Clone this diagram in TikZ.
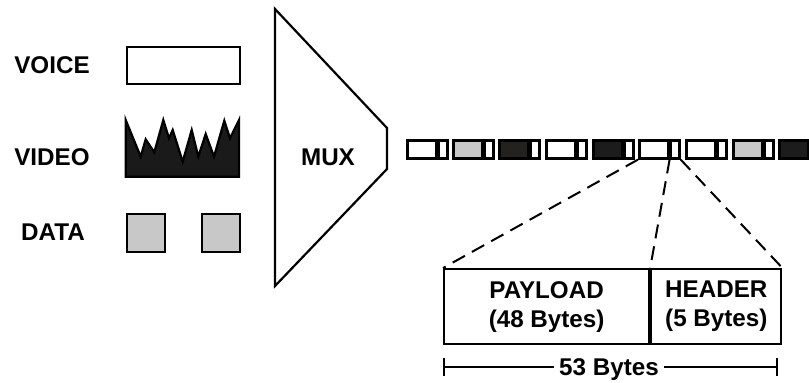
\documentclass[tikz,border=0pt]{standalone}
\usepackage{fontspec}
\setmainfont{Liberation Sans}
\usetikzlibrary{arrows.meta}
\definecolor{cellgray}{HTML}{C8C8C8}
\definecolor{celldark}{HTML}{1C1C1C}
\definecolor{cellbrown}{HTML}{24221F}
\definecolor{wavefill}{HTML}{1A1A1A}
\begin{document}
\begin{tikzpicture}[x=1pt,y=-1pt,
  lbl/.style={font=\fontsize{24.2}{29}\selectfont\bfseries, inner sep=0pt, align=center},
  outline/.style={draw=black, line width=2.2pt},
  cellbody/.style={draw=black, line width=2.6pt, anchor=north west, minimum width=29pt, minimum height=18pt, inner sep=0pt},
  cellhead/.style={cellbody, minimum width=8.5pt, fill=white},
  sample/.style={outline, anchor=north west, inner sep=0pt},
  link/.style={draw=black, line width=2pt, dash pattern=on 14pt off 8pt},
  field/.style={outline, anchor=north west, inner sep=0pt, minimum height=75pt,
    font=\fontsize{24.2}{29}\selectfont\bfseries, align=center},
]
\useasboundingbox (0,0) rectangle (809,383);

% source labels
\node[lbl] (voicelbl) at (52,65) {VOICE};
\node[lbl] (videolbl) at (52,157) {VIDEO};
\node[lbl] (datalbl) at (53,232) {DATA};

% voice: constant-rate block
\node[sample, fill=white, minimum width=113pt, minimum height=37pt] (voice) at (126,46) {};

% video: bursty waveform
\draw[outline, fill=wavefill, line join=miter]
  (125.7,120) -- (140.7,156.7) -- (145.7,139.3) -- (154.3,152.3) -- (163.3,120)
  -- (169,138.3) -- (172.7,130) -- (182.7,161.7) -- (191.7,130) -- (198.3,156.7)
  -- (205.7,134) -- (214,156.7) -- (224.3,120.7) -- (230,138.3) -- (239,120)
  -- (239,176.7) -- (125.7,176.7) -- cycle;

% data: sporadic packets
\node[sample, fill=cellgray, minimum width=38pt, minimum height=38pt] (data1) at (126,213) {};
\node[sample, fill=cellgray, minimum width=38pt, minimum height=38pt] (data2) at (201,213) {};

% multiplexer
\draw[outline, fill=white, line join=miter] (275,9) -- (387,128) -- (387,169) -- (275,286) -- cycle;
\node[lbl] (mux) at (328,157) {MUX};

% stream of cells
\foreach \x/\c/\n in {406/white/1, 452/cellgray/2, 498/cellbrown/3, 545/white/4,
                      592/celldark/5, 638/white/6, 685/white/7, 732/cellgray/8, 778/celldark/9} {
  \node[cellbody, fill=\c] (b\n) at (\x,139) {};
  \node[cellhead] (h\n) at (b\n.north east) {};
}

% cell format
\node[field, minimum width=205pt] (payload) at (443,268) {PAYLOAD\\(48 Bytes)};
\node[field, minimum width=130pt] (header) at (payload.north east) {HEADER\\(5 Bytes)};

% expansion of one cell
\draw[link] (b6.south west) -- (payload.north west);
\draw[link] (b6.south east) -- (payload.north east);
\draw[link] (h6.south east) -- (header.north east);

% total length
\coordinate (lenL) at (443,367);
\coordinate (lenR) at (778,367);
\node[lbl, inner xsep=5pt, anchor=base] (total) at (609,375.5) {53 Bytes};
\draw[line width=1.6pt, {Bar[width=18pt,line width=1.6pt]}-] (lenL) -- (lenL -| total.west);
\draw[line width=1.6pt, -{Bar[width=18pt,line width=1.6pt]}] (lenR -| total.east) -- (lenR);
\end{tikzpicture}
\end{document}
